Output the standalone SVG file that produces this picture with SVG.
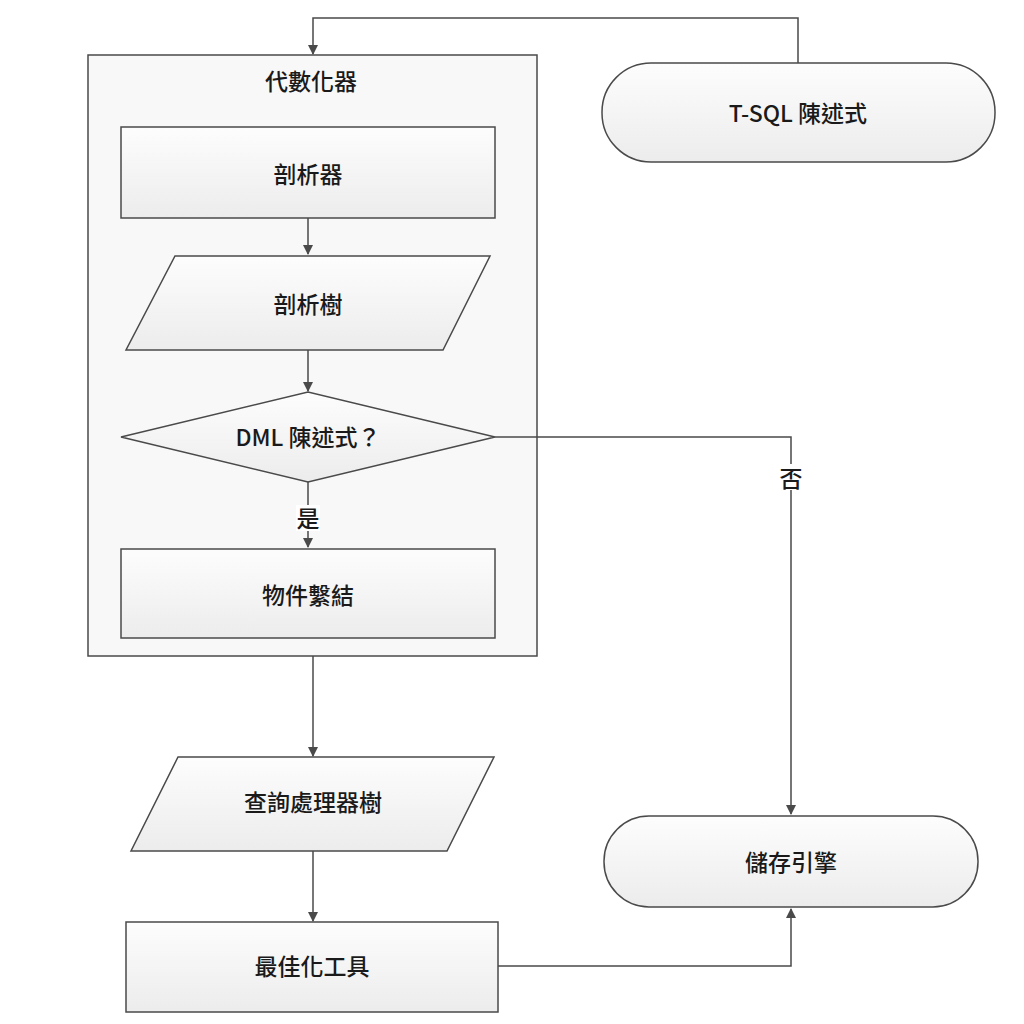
<svg xmlns="http://www.w3.org/2000/svg" width="1024" height="1024" viewBox="0 0 1024 1024">
<style>
.n{fill:url(#g);stroke:#4a4a4a;stroke-width:1.5}
.c{fill:none;stroke:#4a4a4a;stroke-width:1.5;marker-end:url(#a)}
text{font-family:"Noto Sans CJK TC","Noto Sans",sans-serif;font-size:23px;font-weight:500;fill:#1a1a1a;text-anchor:middle;dominant-baseline:central}
</style>
<defs>
<linearGradient id="g" x1="0" y1="0" x2="0" y2="1"><stop offset="0" stop-color="#fdfdfd"/><stop offset="1" stop-color="#ececec"/></linearGradient>
<marker id="a" markerWidth="10" markerHeight="10" refX="9" refY="5" orient="auto" markerUnits="userSpaceOnUse"><path d="M0,0L10,5L0,10z" fill="#4a4a4a"/></marker>
</defs>
<rect width="1024" height="1024" fill="#fff"/>
<g id="algebrizer"><rect x="88" y="55" width="449" height="601" fill="#f8f8f8" stroke="#4a4a4a" stroke-width="1.5"/><text x="311" y="80">代數化器</text></g>
<g id="tsql"><rect class="n" x="602" y="63" width="393" height="99" rx="49"/><text x="798" y="112">T-SQL 陳述式</text></g>
<g id="parser"><rect class="n" x="121" y="127" width="374" height="91"/><text x="308" y="173">剖析器</text></g>
<g id="parsetree"><polygon class="n" points="175,256 490,256 443,350 126,350"/><text x="308" y="303">剖析樹</text></g>
<g id="dml"><polygon class="n" points="121,437 308,392 495,437 308,482"/><text x="308" y="436">DML 陳述式？</text></g>
<g id="binding"><rect class="n" x="121" y="549" width="374" height="89"/><text x="308" y="594">物件繫結</text></g>
<g id="qptree"><polygon class="n" points="178,757 494,757 447,851 131,851"/><text x="313" y="801">查詢處理器樹</text></g>
<g id="optimizer"><rect class="n" x="126" y="922" width="372" height="90"/><text x="312" y="965">最佳化工具</text></g>
<g id="storage"><rect class="n" x="604" y="816" width="374" height="91" rx="45"/><text x="791" y="861">儲存引擎</text></g>
<g id="connectors">
<path class="c" d="M798,63V18H313V54"/>
<path class="c" d="M308,218V254"/>
<path class="c" d="M308,350V391"/>
<path class="c" d="M308,482V547"/>
<path class="c" d="M313,656V756"/>
<path class="c" d="M313,851V921"/>
<path class="c" d="M498,966H791V909"/>
<path class="c" d="M495,437H791V814"/>
<rect x="296" y="505" width="24" height="26" fill="#fff"/><text x="308" y="517">是</text>
<rect x="779" y="464" width="24" height="26" fill="#fff"/><text x="791" y="477">否</text>
</g>
</svg>
